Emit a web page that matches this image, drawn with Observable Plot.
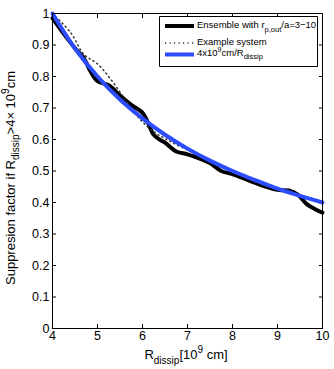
<!DOCTYPE html>
<html><head><meta charset="utf-8">
<script src="https://cdn.jsdelivr.net/npm/d3@7"></script>
<script src="https://cdn.jsdelivr.net/npm/@observablehq/plot@0.6"></script>
<style>body{margin:0;background:#fff}svg{font-family:"Liberation Sans",Arial,sans-serif}</style>
</head><body><div id="c"></div>
<script>
const ensX = [4.0,4.2,4.5,4.7,4.85,5.0,5.25,5.5,5.75,6.0,6.1,6.25,6.4,6.5,6.75,7.0,7.3,7.5,7.75,8.0,8.4,8.75,9.0,9.25,9.45,9.65,9.85,10.0];
const ensY = [0.985,0.945,0.89,0.857,0.815,0.785,0.772,0.74,0.71,0.685,0.66,0.615,0.598,0.59,0.562,0.553,0.538,0.525,0.50,0.49,0.468,0.45,0.44,0.438,0.425,0.395,0.378,0.368];
const exX = [4.0,4.4,4.7,5.0,5.3,5.6,5.85,6.2,6.6,7.0,7.5,8.0,8.5,9.0,9.5,10.0];
const exY = [1.0,0.94,0.87,0.84,0.79,0.73,0.68,0.63,0.595,0.567,0.532,0.5,0.466,0.443,0.42,0.4];
const fitX = [4,4.5,5,5.5,6,6.5,7,7.5,8,8.5,9,9.5,10];
const fitY = [1.0,0.889,0.8,0.727,0.667,0.615,0.571,0.533,0.5,0.471,0.444,0.421,0.4];
const xTicks = [4,5,6,7,8,9,10];
const yTicks = [0,0.1,0.2,0.3,0.4,0.5,0.6,0.7,0.8,0.9,1];
const legendLabels = ["Ensemble with r", "Example system", "4x10"];

const ens = ensX.map((x,i)=>({x,y:ensY[i]}));
const ex = exX.map((x,i)=>({x,y:exY[i]}));
const fit = fitX.map((x,i)=>({x,y:fitY[i]}));

const plot = Plot.plot({
  width:334, height:369,
  marginLeft:52, marginRight:12, marginTop:13, marginBottom:41,
  style:{fontSize:"12.5px", fontFamily:"Liberation Sans, Arial, sans-serif", color:"black"},
  x:{domain:[4,10]},
  y:{domain:[0,1]},
  marks:[
    Plot.axisX({ticks:xTicks, tickSize:-4, tickPadding:7, label:null, tickFormat:d=>String(d)}),
    Plot.axisX({ticks:xTicks, anchor:"top", tickSize:-4, tickFormat:()=>"", label:null}),
    Plot.axisY({ticks:yTicks, tickSize:-4, tickPadding:7, label:null, tickFormat:d=>String(+d.toFixed(1))}),
    Plot.axisY({ticks:yTicks, anchor:"right", tickSize:-4, tickFormat:()=>"", label:null}),
    Plot.line(ens,{x:"x",y:"y",stroke:"black",strokeWidth:4,curve:"catmull-rom"}),
    Plot.line(ex,{x:"x",y:"y",stroke:"#333",strokeWidth:1.5,strokeDasharray:"1.2,3.3",curve:"catmull-rom"}),
    Plot.line(fit,{x:"x",y:"y",stroke:"#2b4cff",strokeWidth:4,curve:"catmull-rom"}),
    Plot.frame({stroke:"black"})
  ]
});
document.getElementById("c").appendChild(plot);
const svg = d3.select(plot);

// y label
const yl = svg.append("text").attr("transform","translate(15,178) rotate(-90)")
  .attr("text-anchor","middle").attr("font-size",13).attr("fill","black");
yl.append("tspan").text("Suppresion factor if R");
yl.append("tspan").attr("font-size",10).attr("dy",4).text("dissip");
yl.append("tspan").attr("dy",-4).text(">4× 10");
yl.append("tspan").attr("font-size",10).attr("dy",-6).text("9");
yl.append("tspan").attr("dy",6).text("cm");

// x label
const xl = svg.append("text").attr("x",186).attr("y",359)
  .attr("text-anchor","middle").attr("font-size",13).attr("fill","black");
xl.append("tspan").text("R");
xl.append("tspan").attr("font-size",10).attr("dy",5).text("dissip");
xl.append("tspan").attr("dy",-5).text("[10");
xl.append("tspan").attr("font-size",10).attr("dy",-6).text("9");
xl.append("tspan").attr("dy",6).text(" cm]");

// legend
const lg = svg.append("g").attr("text-anchor","start");
lg.append("rect").attr("x",160).attr("y",17).attr("width",157).attr("height",49).attr("fill","white");
const L=159.5, R=317.5, T=16.5, B=66.5;
[[L,T,R,T],[R,T,R,B],[R,B,L,B],[L,B,L,T]].forEach(([a,b,c,d])=>
  lg.append("line").attr("x1",a).attr("y1",b).attr("x2",c).attr("y2",d).attr("stroke","black").attr("stroke-width",1));
lg.append("line").attr("x1",165).attr("x2",194).attr("y1",26).attr("y2",26).attr("stroke","black").attr("stroke-width",4);
lg.append("line").attr("x1",165).attr("x2",194).attr("y1",43).attr("y2",43).attr("stroke","#333").attr("stroke-width",1.3).attr("stroke-dasharray","1.2,3.3");
lg.append("line").attr("x1",165).attr("x2",194).attr("y1",54.5).attr("y2",54.5).attr("stroke","#2b4cff").attr("stroke-width",4);
const t1 = lg.append("text").attr("x",197).attr("y",28).attr("font-size",9.5).attr("text-anchor","start");
t1.append("tspan").text(legendLabels[0]);
t1.append("tspan").attr("font-size",7.5).attr("dy",4).text("p,out");
t1.append("tspan").attr("dy",-4).text("/a=3−10");
lg.append("text").attr("x",197).attr("y",44.5).attr("font-size",9.5).attr("text-anchor","start").text(legendLabels[1]);
const t3 = lg.append("text").attr("x",197).attr("y",55.5).attr("font-size",9.5).attr("text-anchor","start");
t3.append("tspan").text(legendLabels[2]);
t3.append("tspan").attr("font-size",7).attr("dy",-4).text("9");
t3.append("tspan").attr("dy",4).text("cm/R");
t3.append("tspan").attr("font-size",7.5).attr("dy",3).text("dissip");
</script></body></html>
